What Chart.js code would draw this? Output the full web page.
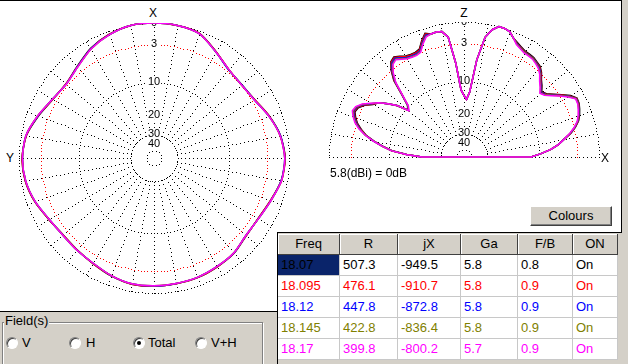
<!DOCTYPE html>
<html>
<head>
<meta charset="utf-8">
<script src="https://cdn.jsdelivr.net/npm/chart.js@4.4.0/dist/chart.umd.min.js"></script>
<style>
  body { margin: 0; background: #fff; }
  #page { position: relative; width: 628px; height: 364px; overflow: hidden; background: #fff;
          font-family: "Liberation Sans", Arial, sans-serif; color: #000; }
  .abs { position: absolute; }
  canvas { display: block; }
  .axl { position: absolute; font-size: 12px; line-height: 12px; width: 12px; text-align: center; }
  .radio { position: absolute; top: 337px; width: 10px; height: 10px; border-radius: 50%; background: #fff;
           border: 1px solid; border-color: #808080 #fff #fff #808080; box-shadow: inset 1px 1px 0 #404040; }
  .radio.on::after { content: ""; position: absolute; left: 3px; top: 3px; width: 4px; height: 4px; border-radius: 50%; background: #000; }
  .rlab { position: absolute; top: 336px; font-size: 13px; line-height: 14px; }
  .row { position: absolute; left: 278px; height: 21px; display: flex; font-size: 13px; }
  .row div { box-sizing: border-box; height: 21px; line-height: 20px; white-space: nowrap; overflow: hidden; }
  .hd div { background: #d4d0c8; text-align: center; border-right: 1px solid #404040; border-bottom: 1px solid #404040;
            box-shadow: inset 1px 1px 0 #fff; }
  .dt div { background: #fff; padding-left: 3px; border-right: 1px solid #c8c8c8; border-bottom: 1px solid #c8c8c8; }
</style>
</head>
<body>
<div id="page">
  <div class="abs" style="left:0;top:0;width:628px;height:1px;background:#000"></div>

  <div class="abs" style="left:19px;top:23px;width:271px;height:271px"><canvas id="az" width="271" height="271"></canvas></div>
  <div class="abs" style="left:329px;top:22px;width:271px;height:271px"><canvas id="el" width="271" height="271"></canvas></div>

  <div class="axl" style="left:147px;top:7px">X</div>
  <div class="axl" style="left:4px;top:152px">Y</div>
  <div class="axl" style="left:458px;top:7px">Z</div>
  <div class="axl" style="left:599px;top:152px">X</div>
  <div class="abs" style="left:330px;top:166px;font-size:12px;line-height:14px">5.8(dBi) = 0dB</div>

  <!-- right frame -->
  <div class="abs" style="left:621px;top:0;width:7px;height:364px;background:#d4d0c8"></div>
  <div class="abs" style="left:621px;top:0;width:1px;height:233px;background:#000"></div>

  <!-- fields panel -->
  <div class="abs" style="left:0;top:311px;width:277px;height:53px;background:#d4d0c8;border-top:1px solid #000"></div>
  <div class="abs" style="left:2px;top:322px;width:259px;height:44px;border:1px solid #808080;box-shadow:inset 1px 1px 0 #fff, 1px 1px 0 #fff"></div>
  <div class="abs" style="left:4px;top:313px;background:#d4d0c8;font-size:13px;line-height:15px;padding:0 1px">Field(s)</div>
  <div class="radio" style="left:6px"></div><div class="rlab" style="left:22px">V</div>
  <div class="radio" style="left:69px"></div><div class="rlab" style="left:86px">H</div>
  <div class="radio on" style="left:133px"></div><div class="rlab" style="left:148px">Total</div>
  <div class="radio" style="left:195px"></div><div class="rlab" style="left:211px">V+H</div>

  <!-- table area -->
  <div class="abs" style="left:277px;top:232px;width:344px;height:132px;background:#d4d0c8;border-top:1px solid #000;border-left:1px solid #000"></div>
  <div id="tbl"></div>

  <div class="abs" style="left:530px;top:206px;width:80px;height:18px;background:#d4d0c8;border:1px solid;border-color:#fff #404040 #404040 #fff;box-shadow:inset -1px -1px 0 #808080;font-size:13px;line-height:18px;text-align:center">Colours</div>
</div>

<script>
// frequencies (MHz) and their trace colours
const freqs = ["18.07", "18.095", "18.12", "18.145", "18.17"];
const colours = ["#000000", "#ff0000", "#0000ff", "#808000", "#ff00ff"];

// table columns
const colNames = ["Freq", "R", "jX", "Ga", "F/B", "ON"];
const resR = ["507.3", "476.1", "447.8", "422.8", "399.8"];
const resX = ["-949.5", "-910.7", "-872.8", "-836.4", "-800.2"];
const gainGa = ["5.8", "5.8", "5.8", "5.8", "5.7"];
const fbRatio = ["0.8", "0.9", "0.9", "0.9", "0.9"];
const onState = ["On", "On", "On", "On", "On"];

// polar grid: ring levels (dB) and the labels on the vertical axis
const ringDb = [0, -3, -10, -30, -50];
const labelDb = [0, -3, -10, -20, -30, -40];
const labelTxt = ["0", "3", "10", "20", "30", "40"];

// azimuth pattern, angle counter-clockwise from X (deg), gain relative to 5.8 dBi
const azAngles = [0,10,20,30,40,50,60,70,80,90,100,110,120,130,140,150,160,170,180,190,200,210,220,230,240,250,260,270,280,290,300,310,320,330,340,350];
const az18070 = [0,-0.05,-0.45,-1.1,-2.1,-2.75,-2.45,-1.6,-0.7,-0.4,-0.55,-1.05,-1.75,-2.15,-2.05,-1.75,-1.25,-0.9,-0.9,-0.95,-1.0,-1.2,-1.4,-1.95,-1.95,-1.45,-0.75,-0.5,-0.85,-1.65,-2.55,-2.85,-2.65,-1.55,-0.3,-0.05];
const az18095 = [0,-0.05,-0.45,-1.15,-2.15,-2.75,-2.45,-1.55,-0.7,-0.4,-0.55,-1.05,-1.75,-2.15,-2.05,-1.75,-1.3,-0.9,-0.9,-0.95,-1.0,-1.2,-1.45,-1.95,-1.95,-1.45,-0.7,-0.5,-0.9,-1.65,-2.55,-2.9,-2.6,-1.55,-0.3,-0.05];
const az18120 = [0,-0.05,-0.5,-1.15,-2.15,-2.8,-2.4,-1.55,-0.65,-0.45,-0.6,-1.1,-1.8,-2.1,-2.0,-1.8,-1.3,-0.95,-0.9,-1.0,-1.05,-1.25,-1.45,-2.0,-1.9,-1.4,-0.75,-0.55,-0.85,-1.7,-2.6,-2.85,-2.65,-1.6,-0.35,-0.05];
const az18145 = [0,-0.05,-0.5,-1.2,-2.2,-2.8,-2.4,-1.5,-0.65,-0.45,-0.6,-1.1,-1.8,-2.1,-2.0,-1.8,-1.3,-0.95,-0.95,-1.0,-1.05,-1.25,-1.45,-2.0,-1.9,-1.4,-0.7,-0.55,-0.9,-1.7,-2.6,-2.9,-2.6,-1.6,-0.35,-0.05];
const az18170 = [0,-0.05,-0.5,-1.2,-2.2,-2.8,-2.4,-1.5,-0.65,-0.45,-0.6,-1.1,-1.8,-2.1,-2.0,-1.8,-1.3,-0.95,-0.95,-1.0,-1.05,-1.25,-1.45,-2.0,-1.9,-1.4,-0.7,-0.55,-0.9,-1.7,-2.6,-2.9,-2.6,-1.6,-0.35,-0.05];

// elevation pattern, angle from the horizon towards X (0) through Z (90) to 180
const elAngles = [0,2.5,5,7.5,10,12.5,15,17.5,20,22.5,25,27.5,30,32.5,35,37.5,40,42.5,45,47.5,50,52.5,55,57.5,60,62.5,65,67.5,70,72.5,75,77.5,80,82.5,85,87.5,90,92.5,95,97.5,100,102.5,105,107.5,110,112.5,115,117.5,120,122.5,125,127.5,130,132.5,135,137.5,140,142.5,145,147.5,150,152.5,155,157.5,160,162.5,165,167.5,170,172.5,175,177.5,180];
const el18070 = [-12,-9.6,-7.5,-6.0,-4.9,-3.6,-2.7,-2.0,-1.6,-1.3,
  -1.05,-1.0,-1.6,-2.6,-3.6,-4.5,-4.9,-4.2,-3.6,-2.8,
  -2.25,-2.05,-1.8,-1.75,-1.7,-1.45,-1.15,-0.8,-0.2,-0.03,
  0,-0.6,-1.8,-5.5,-12.5,-14.6,-13.5,-12.0,-6.2,-1.9,
  -1.0,-0.9,-1.0,-0.7,-1.5,-2.5,-2.7,-2.65,-2.5,-2.1,
  -1.7,-2.0,-3.0,-4.5,-7.4,-9.7,-10.5,-8.0,-6.4,-5.0,
  -4.3,-3.2,-2.5,-2.3,-2.7,-3.25,-4.1,-5.1,-6.7,-8.6,
  -10.7,-14.7,-20];
const el18095 = [-12,-9.6,-7.5,-6.0,-4.9,-3.65,-2.75,-2.05,-1.65,-1.35,
  -1.1,-1.05,-1.7,-2.7,-3.7,-4.6,-5.0,-4.3,-3.7,-2.9,
  -2.35,-2.15,-1.9,-1.85,-1.8,-1.55,-1.25,-0.8,-0.2,-0.03,
  0,-0.6,-1.8,-5.5,-12.5,-14.6,-13.5,-12.0,-6.2,-1.9,
  -1.0,-0.9,-1.0,-0.8,-1.6,-2.6,-2.8,-2.75,-2.6,-2.2,
  -1.8,-2.1,-3.1,-4.6,-7.5,-9.8,-10.6,-8.0,-6.4,-5.0,
  -4.2,-3.1,-2.4,-2.2,-2.6,-3.15,-4.0,-5.05,-6.65,-8.55,
  -10.65,-14.65,-20];
const el18120 = [-12,-9.6,-7.5,-6.0,-4.9,-3.7,-2.8,-2.1,-1.7,-1.4,
  -1.15,-1.1,-1.8,-2.8,-3.8,-4.7,-5.1,-4.4,-3.8,-3.0,
  -2.45,-2.2,-1.95,-1.9,-1.85,-1.6,-1.3,-0.8,-0.2,-0.03,
  0,-0.6,-1.8,-5.5,-12.5,-14.6,-13.5,-12.0,-6.2,-1.9,
  -1.0,-0.9,-1.0,-0.95,-1.75,-2.75,-2.95,-2.9,-2.75,-2.35,
  -1.95,-2.25,-3.25,-4.75,-7.55,-9.85,-10.65,-8.0,-6.4,-5.0,
  -4.1,-3.0,-2.3,-2.1,-2.5,-3.05,-3.9,-5.0,-6.6,-8.5,
  -10.6,-14.6,-20];
const el18145 = [-12,-9.6,-7.5,-6.0,-4.9,-3.75,-2.85,-2.15,-1.75,-1.45,
  -1.2,-1.15,-1.9,-2.9,-3.9,-4.8,-5.2,-4.5,-3.9,-3.1,
  -2.55,-2.25,-2.0,-1.95,-1.9,-1.65,-1.35,-0.8,-0.2,-0.03,
  0,-0.6,-1.8,-5.5,-12.5,-14.6,-13.5,-12.0,-6.2,-1.9,
  -1.0,-0.9,-1.0,-1.1,-1.9,-2.9,-3.1,-3.05,-2.9,-2.5,
  -2.1,-2.4,-3.4,-4.9,-7.6,-9.9,-10.7,-8.0,-6.4,-5.0,
  -4.0,-2.9,-2.2,-2.0,-2.4,-2.95,-3.8,-4.95,-6.55,-8.45,
  -10.55,-14.55,-20];
const el18170 = [-12,-9.6,-7.5,-6.0,-4.9,-3.8,-2.9,-2.2,-1.8,-1.5,
  -1.25,-1.2,-2.0,-3.0,-4.0,-4.9,-5.3,-4.6,-4.0,-3.2,
  -2.65,-2.35,-2.1,-2.05,-2.0,-1.75,-1.45,-0.8,-0.2,-0.03,
  0,-0.6,-1.8,-5.5,-12.5,-14.6,-13.5,-12.0,-6.2,-1.9,
  -1.0,-0.9,-1.0,-1.2,-2.0,-3.0,-3.2,-3.15,-3.0,-2.6,
  -2.2,-2.5,-3.5,-5.0,-7.7,-10.0,-10.8,-8.0,-6.4,-5.0,
  -3.9,-2.8,-2.1,-1.9,-2.3,-2.85,-3.7,-4.9,-6.5,-8.4,
  -10.5,-14.5,-20];

const azSeries = [az18070, az18095, az18120, az18145, az18170];
const elSeries = [el18070, el18095, el18120, el18145, el18170];

// ARRL log scale: radius drops by 0.89 every 2 dB
function toR(db) { return db == null ? 0 : Math.pow(0.89, -db / 2); }

// TABLE
const colW = [62, 58, 63, 57, 55, 45];
let html = '<div class="row hd" style="top:234px">' + colNames.map((n, j) => `<div style="width:${colW[j]}px">${n}</div>`).join("") + '</div>';
freqs.forEach((f, i) => {
  const cells = [f, resR[i], resX[i], gainGa[i], fbRatio[i], onState[i]];
  html += `<div class="row dt" style="top:${255 + i * 21}px;color:${colours[i]}">` +
    cells.map((c, j) => {
      const sel = (i === 0 && j === 0) ? "background:#0a246a;" : "";
      return `<div style="width:${colW[j]}px;${sel}">${c}</div>`;
    }).join("") + '</div>';
});
document.getElementById("tbl").innerHTML = html;

// crisp one-pixel dots along a segment / a circle
function dotSeg(ctx, x1, y1, x2, y2, gap) {
  const n = Math.round(Math.hypot(x2 - x1, y2 - y1) / gap);
  for (let k = 0; k <= n; k++) {
    const t = n ? k / n : 0;
    ctx.fillRect(Math.round(x1 + (x2 - x1) * t), Math.round(y1 + (y2 - y1) * t), 1, 1);
  }
}
function dotRing(ctx, cx, cy, r) {
  const n = Math.max(8, Math.round(2 * Math.PI * r / 3.3));
  for (let k = 0; k < n; k++) {
    const a = 2 * Math.PI * k / n;
    ctx.fillRect(Math.round(cx + r * Math.cos(a)), Math.round(cy + r * Math.sin(a)), 1, 1);
  }
}

// grid drawing: dotted rings, spokes and ring labels (drawn before the traces)
function polarGrid(spokeIdx, baseline) {
  return {
    id: "polarGrid",
    beforeDatasetsDraw(chart) {
      const s = chart.scales.r, ctx = chart.ctx;
      ctx.save();
      ringDb.forEach(db => {
        ctx.fillStyle = db === -3 ? "#ff0000" : "#000000";
        dotRing(ctx, s.xCenter, s.yCenter, s.getDistanceFromCenterForValue(toR(db)));
      });
      ctx.fillStyle = "#000";
      spokeIdx.forEach(i => {
        const a = s.getPointPositionForValue(i, toR(-30));
        const b = s.getPointPositionForValue(i, 1);
        dotSeg(ctx, a.x, a.y, b.x, b.y, 4);
      });
      if (baseline) dotSeg(ctx, s.xCenter - s.drawingArea, s.yCenter, s.xCenter + s.drawingArea, s.yCenter, 4);
      ctx.font = "11px 'Liberation Sans', Arial, sans-serif";
      ctx.textAlign = "center";
      ctx.textBaseline = "middle";
      labelDb.forEach((db, k) => {
        const y = s.yCenter - s.getDistanceFromCenterForValue(toR(db)) - 1;
        const w = ctx.measureText(labelTxt[k]).width;
        ctx.fillStyle = "#fff";
        ctx.fillRect(s.xCenter - w / 2 - 1, y - 4, w + 2, 9);
        ctx.fillStyle = "#000";
        ctx.fillText(labelTxt[k], s.xCenter, y + 0.5);
      });
      ctx.restore();
    }
  };
}

// keep only the upper half for the elevation plot
const upperHalf = {
  id: "upperHalf",
  beforeDraw(chart) {
    const s = chart.scales.r;
    chart.ctx.save();
    chart.ctx.beginPath();
    chart.ctx.rect(0, 0, chart.width, s.yCenter + 1);
    chart.ctx.clip();
  },
  afterDraw(chart) { chart.ctx.restore(); }
};

function radarOptions(tension) {
  return {
    responsive: false,
    devicePixelRatio: 1,
    animation: false,
    layout: { padding: 0 },
    plugins: { legend: { display: false }, tooltip: { enabled: false } },
    elements: { point: { radius: 0 }, line: { borderWidth: 1.5, fill: false, tension: tension } },
    scales: {
      r: {
        min: 0, max: 1,
        ticks: { display: false },
        pointLabels: { display: false },
        angleLines: { display: false },
        grid: { display: false }
      }
    }
  };
}

// AZIMUTH (radar index runs clockwise from the top, X at top, Y at left)
const azSpokes = azAngles.map((a, i) => i);

new Chart(document.getElementById("az"), {
  type: "radar",
  data: {
    labels: azAngles.map((a, i) => String(i * 10)),
    datasets: azSeries.map((ser, k) => ({
      label: freqs[k],
      data: azAngles.map((a, i) => toR(ser[azAngles.indexOf((360 - i * 10) % 360)])),
      borderColor: colours[k],
      backgroundColor: "transparent",
      order: azSeries.length - 1 - k
    }))
  },
  options: radarOptions(0.25),
  plugins: [polarGrid(azSpokes, false)]
});

// ELEVATION (Z at top, X at right; below the horizon the trace sits at the centre)
const elCount = 144;
const elLabels = [];
for (let i = 0; i < elCount; i++) elLabels.push(String(i));
function elAngleAt(i) { return ((90 - 2.5 * i) % 360 + 360) % 360; }
const elSpokes = [];
for (let i = 0; i < elCount; i += 4) {
  const p = elAngleAt(i);
  if (p > 0 && p < 180) elSpokes.push(i);
}

new Chart(document.getElementById("el"), {
  type: "radar",
  data: {
    labels: elLabels,
    datasets: elSeries.map((ser, k) => ({
      label: freqs[k],
      data: elLabels.map((l, i) => {
        const p = elAngleAt(i);
        return p <= 180 ? toR(ser[elAngles.indexOf(p)]) : 0;
      }),
      borderColor: colours[k],
      backgroundColor: "transparent",
      order: elSeries.length - 1 - k
    }))
  },
  options: radarOptions(0),
  plugins: [upperHalf, polarGrid(elSpokes, true)]
});
</script>
</body>
</html>
